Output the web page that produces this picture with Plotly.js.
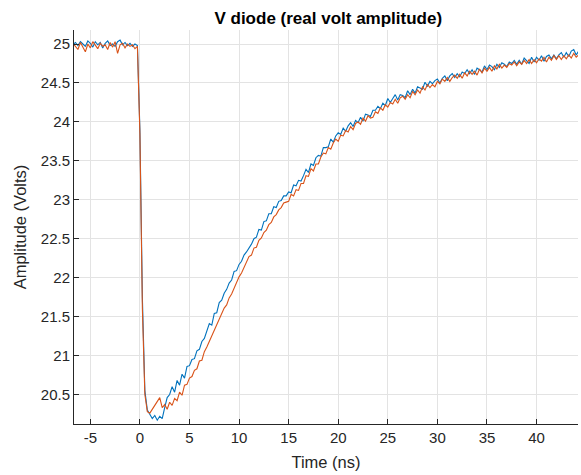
<!DOCTYPE html>
<html>
<head>
<meta charset="utf-8">
<script src="https://cdn.plot.ly/plotly-3.0.1.min.js"></script>
<style>html,body{margin:0;padding:0;background:#fff;}#chart{width:581px;height:475px;}</style>
</head>
<body>
<div id="chart"></div>
<script>
// Time axis (ns)
const timeNs = [
-6.75,-6.5,-6.25,-6,-5.75,-5.5,-5.25,-5,-4.75,-4.5,-4.25,-4,-3.75,-3.5,-3.25,-3,-2.75,-2.5,-2.25,-2,-1.75,-1.5,-1.25,-1,-0.75,-0.5,-0.25,
0,0.25,0.5,0.75,1,1.25,1.5,1.75,2,2.25,2.5,2.75,3,3.25,3.5,3.75,4,4.25,4.5,4.75,5,5.25,5.5,5.75,6,6.25,6.5,6.75,7,7.25,7.5,7.75,8,8.25,8.5,8.75,9,9.25,9.5,9.75,10,10.25,10.5,10.75,11,11.25,11.5,11.75,12,12.25,12.5,12.75,13,13.25,13.5,13.75,14,14.25,14.5,14.75,
15,15.25,15.5,15.75,16,16.25,16.5,16.75,17,17.25,17.5,17.75,18,18.25,18.5,18.75,19,19.25,19.5,19.75,20,20.25,20.5,20.75,21,21.25,21.5,21.75,22,22.25,22.5,22.75,23,23.25,23.5,23.75,24,24.25,24.5,24.75,25,25.25,25.5,25.75,26,26.25,26.5,26.75,27,27.25,27.5,27.75,28,28.25,28.5,28.75,29,29.25,29.5,29.75,30,30.25,30.5,30.75,31,31.25,31.5,31.75,32,32.25,32.5,32.75,33,33.25,33.5,33.75,34,34.25,34.5,34.75,35,35.25,35.5,35.75,36,36.25,36.5,36.75,37,37.25,37.5,37.75,38,38.25,38.5,38.75,39,39.25,39.5,39.75,40,40.25,40.5,40.75,41,41.25,41.5,41.75,42,42.25,42.5,42.75,43,43.25,43.5,43.75,44,44.25
];

// Series 1 (blue)
const voltsBlue = [
24.99,25.02,24.98,25.03,25.00,24.97,25.04,25.01,24.96,25.03,24.99,25.02,24.95,25.01,25.04,24.98,25.00,24.97,25.03,25.05,24.99,25.02,24.98,25.01,24.97,25.00,24.98,
23.90,21.74,20.55,20.30,20.24,20.19,20.23,20.17,20.22,20.19,20.33,20.46,20.50,20.60,20.53,20.68,20.62,20.76,20.71,20.86,20.87,20.95,20.96,21.06,21.08,21.18,21.22,21.33,21.41,21.39,21.54,21.55,21.68,21.71,21.80,21.85,21.93,21.97,22.08,22.09,22.17,22.21,22.29,22.33,22.38,22.43,22.50,22.52,22.62,22.61,22.72,22.73,22.82,22.82,22.91,22.90,22.98,22.99,23.05,23.05,
23.10,23.09,23.19,23.18,23.25,23.24,23.31,23.39,23.35,23.46,23.44,23.54,23.57,23.56,23.67,23.67,23.68,23.78,23.74,23.82,23.86,23.84,23.92,23.88,23.95,23.99,23.94,24.02,23.99,24.06,24.01,24.10,24.09,24.07,24.15,24.15,24.20,24.17,24.24,24.21,
24.30,24.25,24.30,24.35,24.28,24.35,24.34,24.31,24.40,24.35,24.42,24.37,24.45,24.44,24.42,24.51,24.46,24.52,24.49,24.53,24.55,24.50,24.56,24.59,24.53,24.59,24.62,24.57,24.62,24.58,24.64,24.62,24.67,24.62,24.67,24.61,24.69,24.67,24.64,24.72,
24.67,24.73,24.71,24.67,24.74,24.70,24.76,24.74,24.71,24.77,24.75,24.79,24.74,24.79,24.74,24.82,24.79,24.75,24.83,24.77,24.83,24.79,24.85,24.78,24.84,24.86,24.81,24.86,24.81,24.86,24.89,24.83,24.89,24.84,24.91,24.93,24.86,24.91
];

// Series 2 (orange)
const voltsOrange = [
25.01,24.97,24.93,25.02,24.96,24.90,25.00,24.95,25.03,24.98,24.94,25.01,24.97,24.99,24.93,25.02,24.96,25.03,24.88,24.99,25.01,24.95,25.00,24.97,24.99,24.94,24.97,
23.85,21.60,20.50,20.28,20.26,20.31,20.36,20.42,20.46,20.33,20.37,20.31,20.40,20.36,20.45,20.42,20.53,20.49,20.62,20.63,20.71,20.73,20.81,20.83,20.93,20.94,21.05,21.11,21.18,21.25,21.31,21.39,21.45,21.54,21.61,21.65,21.74,21.79,21.87,21.94,22.01,22.06,22.13,22.19,22.27,22.29,22.38,22.39,22.48,22.51,22.58,22.61,22.68,22.71,22.78,22.81,22.87,22.90,22.96,22.97,
22.98,23.07,23.05,23.13,23.12,23.21,23.21,23.31,23.30,23.40,23.37,23.46,23.46,23.55,23.60,23.59,23.67,23.65,23.73,23.78,23.75,23.83,23.82,23.89,23.87,23.94,23.90,23.98,24.00,23.97,24.05,24.01,24.08,24.05,24.06,24.13,24.11,24.18,24.15,24.22,
24.19,24.25,24.23,24.29,24.24,24.31,24.33,24.29,24.35,24.31,24.39,24.35,24.41,24.37,24.45,24.41,24.48,24.44,24.48,24.45,24.52,24.49,24.55,24.52,24.57,24.52,24.57,24.60,24.56,24.61,24.56,24.63,24.59,24.65,24.61,24.65,24.60,24.68,24.63,24.69,
24.65,24.70,24.65,24.72,24.68,24.74,24.69,24.73,24.70,24.75,24.73,24.77,24.72,24.77,24.74,24.79,24.75,24.80,24.75,24.80,24.76,24.81,24.78,24.83,24.77,24.83,24.79,24.85,24.80,24.85,24.80,24.85,24.81,24.86,24.82,24.88,24.83,24.86
];

const xTickVals = [-5,0,5,10,15,20,25,30,35,40];
const xTickText = ["-5","0","5","10","15","20","25","30","35","40"];
const yTickVals = [20.5,21,21.5,22,22.5,23,23.5,24,24.5,25];
const yTickText = ["20.5","21","21.5","22","22.5","23","23.5","24","24.5","25"];

const FONT = "Liberation Sans, Arial, Helvetica, sans-serif";
const AX = "#262626";

const traces = [
  {x: timeNs, y: voltsBlue, type: "scatter", mode: "lines", line: {color: "#0072BD", width: 1.1}, hoverinfo: "skip"},
  {x: timeNs, y: voltsOrange, type: "scatter", mode: "lines", line: {color: "#D95319", width: 1.1}, hoverinfo: "skip"}
];

const layout = {
  width: 581, height: 475,
  margin: {l: 74, r: 3, t: 30, b: 51},
  paper_bgcolor: "#fff", plot_bgcolor: "#fff",
  showlegend: false,
  font: {family: FONT, color: AX, size: 15},
  title: {text: "<b>V diode (real volt amplitude)</b>", font: {family: FONT, size: 17, color: "#000"},
          x: 0.565, xanchor: "center", y: 0.962, yanchor: "middle", yref: "container", xref: "container"},
  xaxis: {
    range: [-6.646, 44.18], tickvals: xTickVals, ticktext: xTickText,
    showgrid: true, gridcolor: "#e3e3e3", gridwidth: 1, zeroline: false,
    showline: true, linecolor: AX, linewidth: 1, mirror: false,
    ticks: "inside", ticklen: 5, tickcolor: AX, tickwidth: 1,
    tickfont: {family: FONT, size: 15, color: AX},
    title: {text: "Time (ns)", font: {family: FONT, size: 16.5, color: AX}, standoff: 11},
    automargin: false
  },
  yaxis: {
    range: [20.121, 25.18], tickvals: yTickVals, ticktext: yTickText,
    showgrid: true, gridcolor: "#e3e3e3", gridwidth: 1, zeroline: false,
    showline: true, linecolor: AX, linewidth: 1, mirror: false,
    ticks: "inside", ticklen: 5, tickcolor: AX, tickwidth: 1,
    tickfont: {family: FONT, size: 15, color: AX},
    title: {text: "Amplitude (Volts)", font: {family: FONT, size: 16.5, color: AX}, standoff: 10},
    automargin: false
  }
};

Plotly.newPlot("chart", traces, layout, {staticPlot: true, displayModeBar: false});
</script>
</body>
</html>
